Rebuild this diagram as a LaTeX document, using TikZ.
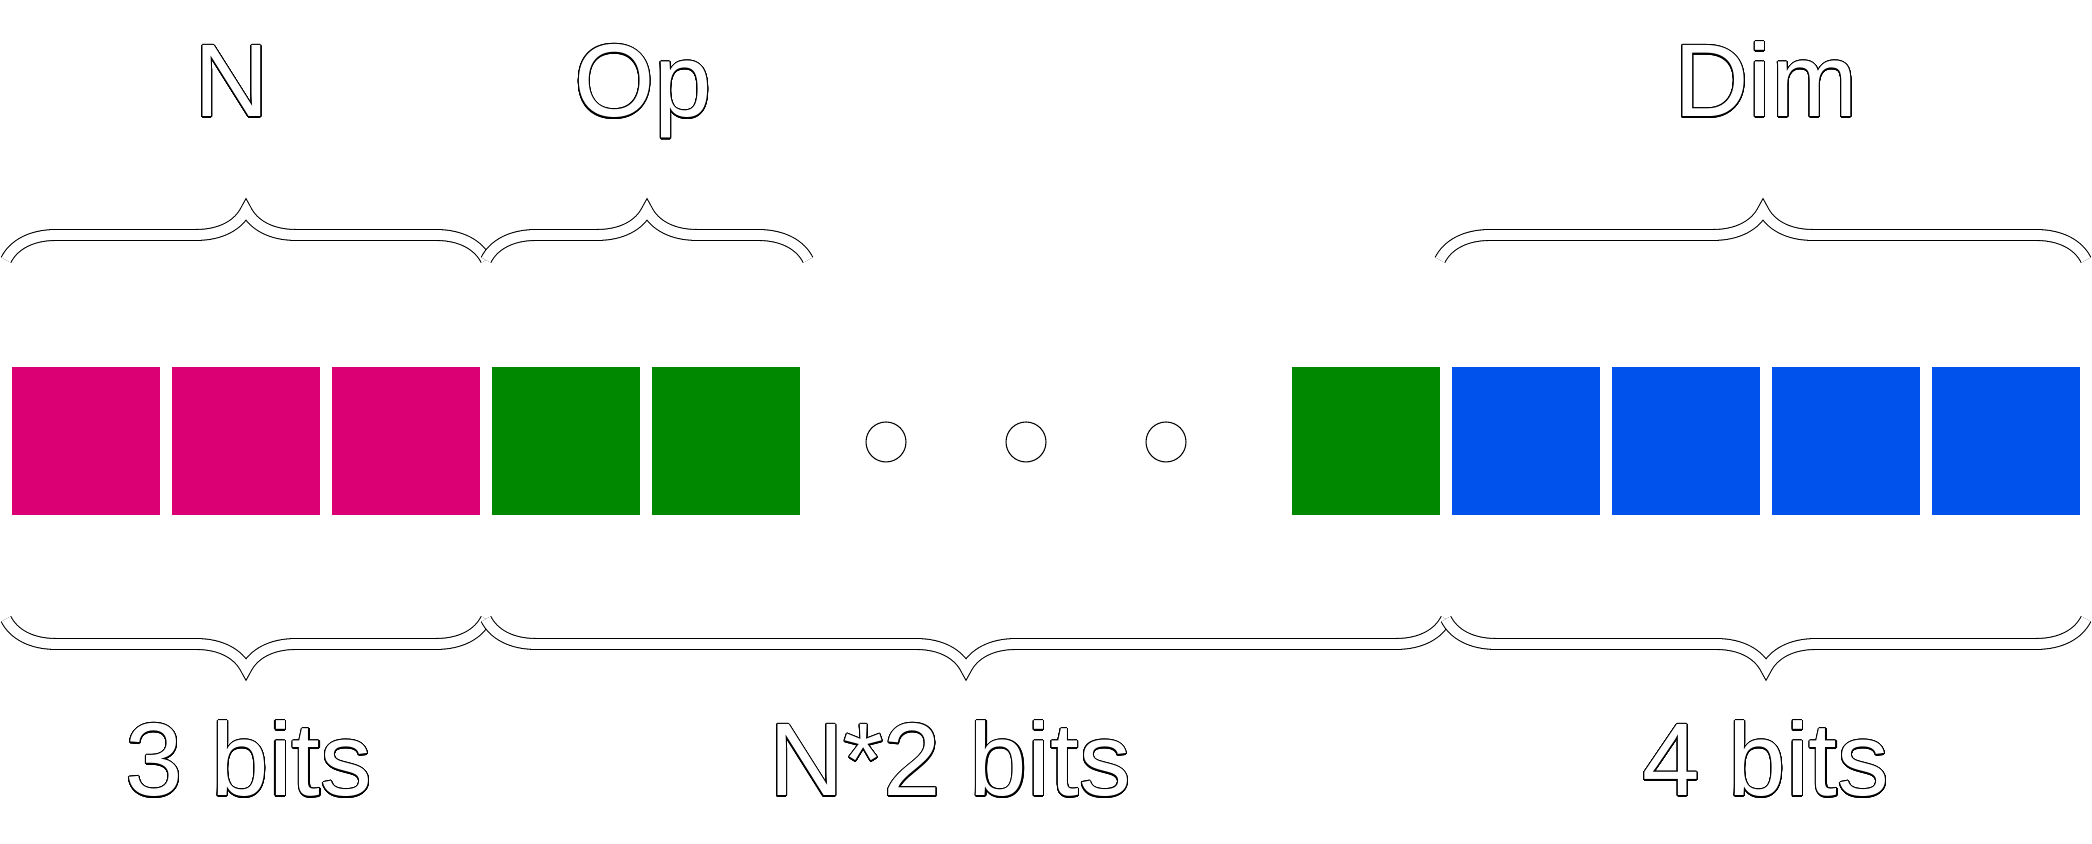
\documentclass[tikz,border=0pt]{standalone}
\usepackage{fontspec}
\setmainfont{Liberation Sans}
\usepackage{contour}
\usepackage{tikz}
\usetikzlibrary{decorations.pathreplacing}
\contourlength{0.3pt}
\contournumber{32}
\definecolor{bitpink}{HTML}{DB0073}
\definecolor{bitgreen}{HTML}{008900}
\definecolor{bitblue}{HTML}{0052ED}

\begin{document}
\begin{tikzpicture}[
	sq/.style={shape=rectangle, minimum size=1.48cm, inner sep=0pt},
	dot/.style={shape=circle, draw=black, fill=white, line width=0.3pt, minimum size=0.4cm, inner sep=0pt},
	lbl/.style={anchor=base, text=white, font=\fontsize{29.4}{35}\selectfont},
	brc/.style={decorate, decoration={brace, amplitude=0.5cm}, draw=black, line width=0.3pt, double=white, double distance=2.8pt}]
	\useasboundingbox (0,0) rectangle (20.92,8.44);

	\node[sq, fill=bitpink] (p1) at (0.86,4.025) {};
	\node[sq, fill=bitpink] (p2) at (2.46,4.025) {};
	\node[sq, fill=bitpink] (p3) at (4.06,4.025) {};
	\node[sq, fill=bitgreen] (g1) at (5.66,4.025) {};
	\node[sq, fill=bitgreen] (g2) at (7.26,4.025) {};
	\node[dot] (d1) at (8.86,4.02) {};
	\node[dot] (d2) at (10.26,4.02) {};
	\node[dot] (d3) at (11.66,4.02) {};
	\node[sq, fill=bitgreen] (g3) at (13.66,4.025) {};
	\node[sq, fill=bitblue] (b1) at (15.26,4.025) {};
	\node[sq, fill=bitblue] (b2) at (16.86,4.025) {};
	\node[sq, fill=bitblue] (b3) at (18.46,4.025) {};
	\node[sq, fill=bitblue] (b4) at (20.06,4.025) {};

	\coordinate (t0) at (0.06,5.84);
	\coordinate (t1) at (4.86,5.84);
	\coordinate (t2) at (8.08,5.84);
	\coordinate (t3) at (14.40,5.84);
	\coordinate (t4) at (20.86,5.84);
	\coordinate (u0) at (0.06,2.25);
	\coordinate (u1) at (4.86,2.25);
	\coordinate (u2) at (14.46,2.25);
	\coordinate (u3) at (20.86,2.25);

	\path [brc] (t0) -- (t1);
	\path [brc] (t1) -- (t2);
	\path [brc] (t3) -- (t4);
	\path [brc] (u1) -- (u0);
	\path [brc] (u2) -- (u1);
	\path [brc] (u3) -- (u2);

	\node[lbl] (n) at (2.32,7.27) {\contour{black}{N}};
	\node[lbl] (op) at (6.43,7.27) {\contour{black}{Op}};
	\node[lbl] (dim) at (17.66,7.27) {\contour{black}{Dim}};
	\node[lbl] (nb) at (2.49,0.48) {\contour{black}{3 bits}};
	\node[lbl] (ob) at (9.50,0.48) {\contour{black}{N*2 bits}};
	\node[lbl] (db) at (17.66,0.48) {\contour{black}{4 bits}};
\end{tikzpicture}
\end{document}
